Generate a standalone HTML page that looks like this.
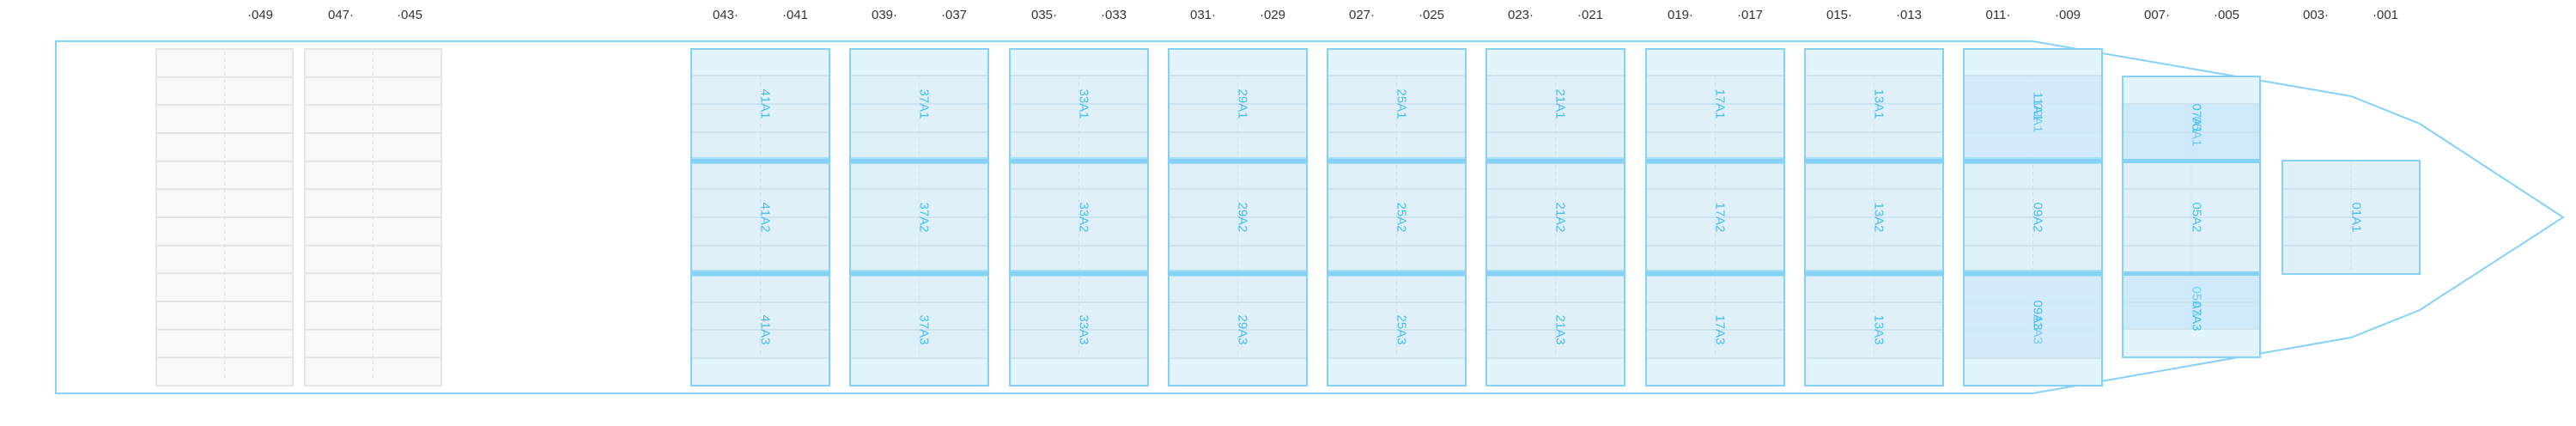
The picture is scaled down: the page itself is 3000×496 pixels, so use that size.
<!DOCTYPE html>
<html><head><meta charset="utf-8"><style>
html,body{margin:0;padding:0;background:#fff;width:3000px;height:496px;overflow:hidden}
svg{display:block}
.t{font-family:"Liberation Sans",sans-serif;font-size:15px;fill:#333}
.l{font-family:"Liberation Sans",sans-serif;font-size:15px;fill:#45bdf0}
</style></head><body>
<svg width="3000" height="496" xmlns="http://www.w3.org/2000/svg">
<defs>
<g id="grey">
<rect x="0" y="57" width="159" height="392" fill="#f9f9f9" stroke="#e6e6e6" stroke-width="2"/>
<g stroke="#e3e3e6" stroke-width="2">
<line x1="0" x2="159" y1="89.7" y2="89.7"/><line x1="0" x2="159" y1="122.3" y2="122.3"/><line x1="0" x2="159" y1="155" y2="155"/><line x1="0" x2="159" y1="187.7" y2="187.7"/><line x1="0" x2="159" y1="220.3" y2="220.3"/><line x1="0" x2="159" y1="253" y2="253"/><line x1="0" x2="159" y1="285.7" y2="285.7"/><line x1="0" x2="159" y1="318.3" y2="318.3"/><line x1="0" x2="159" y1="351" y2="351"/><line x1="0" x2="159" y1="383.7" y2="383.7"/><line x1="0" x2="159" y1="416.3" y2="416.3"/>
</g>
<line x1="79.5" x2="79.5" y1="60" y2="443" stroke="#e2e2e2" stroke-dasharray="4 4"/>
</g>
<g id="bay">
<rect x="0" y="57" width="161" height="392" fill="#dff0f8"/>
<rect x="0" y="57" width="161" height="31" fill="#e2f4fd"/>
<rect x="0" y="417" width="161" height="32" fill="#e2f4fd"/>
<g stroke="#cde3ef" stroke-width="2">
<line x1="0" x2="161" y1="88" y2="88"/><line x1="0" x2="161" y1="121" y2="121"/><line x1="0" x2="161" y1="154" y2="154"/><line x1="0" x2="161" y1="220" y2="220"/><line x1="0" x2="161" y1="253" y2="253"/><line x1="0" x2="161" y1="286" y2="286"/><line x1="0" x2="161" y1="352" y2="352"/><line x1="0" x2="161" y1="384" y2="384"/><line x1="0" x2="161" y1="417" y2="417"/>
</g>
<line x1="80.5" x2="80.5" y1="88" y2="417" stroke="#cfe0ea" stroke-dasharray="4 4"/>
<rect x="0" y="183" width="161" height="8" fill="#a9def7"/><rect x="0" y="185" width="161" height="5" fill="#86d2f6"/>
<rect x="0" y="314" width="161" height="8" fill="#a9def7"/><rect x="0" y="316" width="161" height="5" fill="#86d2f6"/>
<rect x="0" y="57" width="161" height="392" fill="none" stroke="#86d2f6" stroke-width="2"/>
</g>
</defs>
<polygon points="65,48 2367,48 2738,112 2818,144 2985,253 2818,361 2738,393 2367,458 65,458" fill="none" stroke="#86d2f6" stroke-width="2"/>
<use href="#grey" x="182"/><use href="#grey" x="355"/>
<use href="#bay" x="805"/><use href="#bay" x="990"/><use href="#bay" x="1176"/><use href="#bay" x="1361"/><use href="#bay" x="1546"/><use href="#bay" x="1731"/><use href="#bay" x="1917"/><use href="#bay" x="2102"/>
<g transform="translate(2287,0)">
<use href="#bay"/>
<rect x="1" y="89" width="159" height="94" fill="#cfeafb" opacity="0.8"/>
<rect x="1" y="322" width="159" height="94" fill="#cfeafb" opacity="0.8"/>
</g>
<g transform="translate(2472,0)">
<rect x="0" y="89" width="160" height="327" fill="#dff0f8"/>
<rect x="0" y="89" width="160" height="32" fill="#e2f4fd"/>
<rect x="0" y="121" width="160" height="64" fill="#cfeafb"/>
<rect x="0" y="321" width="160" height="62" fill="#cfeafb"/>
<rect x="0" y="383" width="160" height="33" fill="#e2f4fd"/>
<g stroke="#cde3ef" stroke-width="2">
<line x1="0" x2="160" y1="121" y2="121"/><line x1="0" x2="160" y1="154" y2="154"/><line x1="0" x2="160" y1="220" y2="220"/><line x1="0" x2="160" y1="253" y2="253"/><line x1="0" x2="160" y1="286" y2="286"/><line x1="0" x2="160" y1="352" y2="352"/><line x1="0" x2="160" y1="383" y2="383"/>
</g>
<line x1="80" x2="80" y1="121" y2="383" stroke="#cfe0ea" stroke-dasharray="4 4"/>
<rect x="0" y="185" width="160" height="5" fill="#86d2f6"/><rect x="0" y="316" width="160" height="5" fill="#86d2f6"/>
<rect x="0" y="89" width="160" height="327" fill="none" stroke="#86d2f6" stroke-width="2"/>
</g>
<g transform="translate(2658,0)">
<rect x="0" y="187" width="160" height="132" fill="#dff0f8" stroke="#86d2f6" stroke-width="2"/>
<g stroke="#cde3ef" stroke-width="2"><line x1="1" x2="159" y1="220" y2="220"/><line x1="1" x2="159" y1="253" y2="253"/><line x1="1" x2="159" y1="286" y2="286"/></g>
<line x1="80" x2="80" y1="190" y2="316" stroke="#cfe0ea" stroke-dasharray="4 4"/>
</g>
<g class="t" text-anchor="middle">
<text x="303" y="22">·049</text><text x="397" y="22">047·</text><text x="477" y="22">·045</text>
<text x="845" y="22">043·</text><text x="926" y="22">·041</text>
<text x="1030" y="22">039·</text><text x="1111" y="22">·037</text>
<text x="1216" y="22">035·</text><text x="1297" y="22">·033</text>
<text x="1401" y="22">031·</text><text x="1482" y="22">·029</text>
<text x="1586" y="22">027·</text><text x="1667" y="22">·025</text>
<text x="1771" y="22">023·</text><text x="1852" y="22">·021</text>
<text x="1957" y="22">019·</text><text x="2038" y="22">·017</text>
<text x="2142" y="22">015·</text><text x="2223" y="22">·013</text>
<text x="2327" y="22">011·</text><text x="2408" y="22">·009</text>
<text x="2512" y="22">007·</text><text x="2593" y="22">·005</text>
<text x="2697" y="22">003·</text><text x="2778" y="22">·001</text>
</g>
<g class="l" text-anchor="middle" dominant-baseline="central">
<text transform="translate(891,121) rotate(90)">41A1</text><text transform="translate(891,253) rotate(90)">41A2</text><text transform="translate(891,384) rotate(90)">41A3</text>
<text transform="translate(1076,121) rotate(90)">37A1</text><text transform="translate(1076,253) rotate(90)">37A2</text><text transform="translate(1076,384) rotate(90)">37A3</text>
<text transform="translate(1262,121) rotate(90)">33A1</text><text transform="translate(1262,253) rotate(90)">33A2</text><text transform="translate(1262,384) rotate(90)">33A3</text>
<text transform="translate(1447,121) rotate(90)">29A1</text><text transform="translate(1447,253) rotate(90)">29A2</text><text transform="translate(1447,384) rotate(90)">29A3</text>
<text transform="translate(1632,121) rotate(90)">25A1</text><text transform="translate(1632,253) rotate(90)">25A2</text><text transform="translate(1632,384) rotate(90)">25A3</text>
<text transform="translate(1817,121) rotate(90)">21A1</text><text transform="translate(1817,253) rotate(90)">21A2</text><text transform="translate(1817,384) rotate(90)">21A3</text>
<text transform="translate(2003,121) rotate(90)">17A1</text><text transform="translate(2003,253) rotate(90)">17A2</text><text transform="translate(2003,384) rotate(90)">17A3</text>
<text transform="translate(2188,121) rotate(90)">13A1</text><text transform="translate(2188,253) rotate(90)">13A2</text><text transform="translate(2188,384) rotate(90)">13A3</text>
<text transform="translate(2373,124) rotate(90)">11A1</text><text transform="translate(2373,137) rotate(90)" opacity="0.7">09A1</text>
<text transform="translate(2373,253) rotate(90)">09A2</text>
<text transform="translate(2373,367) rotate(90)">09A3</text><text transform="translate(2373,384) rotate(90)" opacity="0.7">11A3</text>
<text transform="translate(2558,138) rotate(90)">07A1</text><text transform="translate(2558,153) rotate(90)" opacity="0.7">05A1</text>
<text transform="translate(2558,253) rotate(90)">05A2</text>
<text transform="translate(2558,351) rotate(90)" opacity="0.7">05A3</text><text transform="translate(2558,368) rotate(90)">07A3</text>
<text transform="translate(2744,253) rotate(90)">01A1</text>
</g>
</svg>
</body></html>
